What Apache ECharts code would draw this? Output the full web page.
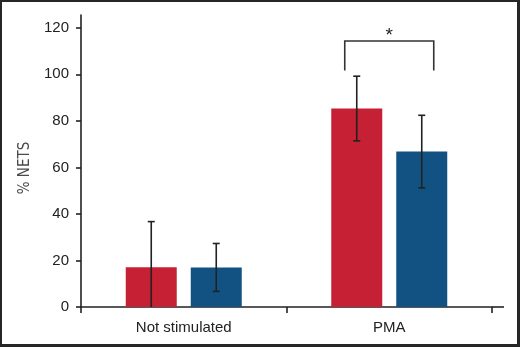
<!DOCTYPE html>
<html>
<head>
<meta charset="utf-8">
<script src="https://cdn.jsdelivr.net/npm/echarts@6/dist/echarts.min.js"></script>
<style>
html,body{margin:0;padding:0;background:#fff;}
#wrap{position:relative;width:520px;height:347px;}
#chart{position:absolute;left:0;top:0;width:520px;height:347px;}
#frame{position:absolute;left:0;top:0;width:520px;height:347px;box-sizing:border-box;border-style:solid;border-color:#262626;border-width:2px 3px 3px 2px;pointer-events:none;}
</style>
</head>
<body>
<div id="wrap"><div id="chart"></div><div id="frame"></div></div>
<script>
// ---- data ----
const categories = ['Not stimulated', 'PMA'];
const redValues = [17.1, 85.3];
const redErrors = [19.6, 13.9];
const blueValues = [17.0, 66.8];
const blueErrors = [10.3, 15.6];
const yTicks = [0, 20, 40, 60, 80, 100, 120];
const yLabel = '% NETS';
// significance bracket (category index, top value, leg bottom value, text)
const sigCategory = 1;
const sigTop = 114.3;
const sigLegBottom = 101.6;
const sigText = '*';

// ---- style ----
const RED = '#C62034';
const BLUE = '#125282';
const INK = '#222222';
const gridLeft = 81, gridRight = 28, gridTop = 15, gridBottom = 40;
const barW = 51, barGapPx = 14;
const barOffset = (barW + barGapPx) / 2;

const chart = echarts.init(document.getElementById('chart'), null, {renderer: 'canvas'});

function errorSeries(values, errors, dir) {
  return {
    type: 'custom',
    clip: true,
    z: 5,
    data: values.map((v, i) => [i, v - errors[i], v + errors[i]]),
    renderItem: function (params, api) {
      const i = api.value(0);
      const lo = api.coord([i, api.value(1)]);
      const hi = api.coord([i, api.value(2)]);
      const x = lo[0] + dir * barOffset;
      const cap = 3.5;
      const st = {stroke: INK, lineWidth: 1.6};
      return {
        type: 'group',
        children: [
          {type: 'line', shape: {x1: x, y1: lo[1], x2: x, y2: hi[1]}, style: st},
          {type: 'line', shape: {x1: x - cap, y1: lo[1], x2: x + cap, y2: lo[1]}, style: st},
          {type: 'line', shape: {x1: x - cap, y1: hi[1], x2: x + cap, y2: hi[1]}, style: st}
        ]
      };
    }
  };
}

const option = {
  animation: false,
  backgroundColor: '#ffffff',
  grid: {left: gridLeft, right: gridRight, top: gridTop, bottom: gridBottom},
  xAxis: {
    type: 'category',
    data: categories,
    axisLine: {lineStyle: {color: INK, width: 1.6}},
    axisTick: {show: true, length: 6, lineStyle: {color: INK, width: 1.6}},
    axisLabel: {color: INK, fontSize: 15, fontFamily: 'Liberation Sans, Arial, sans-serif', margin: 13}
  },
  yAxis: {
    type: 'value',
    min: 0,
    max: 125.5,
    interval: 20,
    name: yLabel,
    nameLocation: 'middle',
    nameGap: 48,
    nameTextStyle: {color: '#4a4a4a', fontSize: 15, fontFamily: 'DejaVu Sans Condensed, Liberation Sans, Arial, sans-serif', padding: [0, 14, 0, 0]},
    splitLine: {show: false},
    axisLine: {show: true, lineStyle: {color: INK, width: 1.6}},
    axisTick: {show: true, length: 5, customValues: yTicks, lineStyle: {color: INK, width: 1.6}},
    axisLabel: {color: INK, fontSize: 15, fontFamily: 'Liberation Sans, Arial, sans-serif', margin: 12, customValues: yTicks}
  },
  series: [
    {type: 'bar', data: redValues, barWidth: barW, barGap: (barGapPx / barW * 100) + '%',
     itemStyle: {color: RED}, z: 2},
    {type: 'bar', data: blueValues, barWidth: barW,
     itemStyle: {color: BLUE}, z: 2},
    errorSeries(redValues, redErrors, -1),
    errorSeries(blueValues, blueErrors, 1),
    {
      type: 'custom',
      clip: false,
      z: 6,
      data: [[sigCategory, sigTop, sigLegBottom]],
      renderItem: function (params, api) {
        const c = api.value(0);
        const top = api.coord([c, api.value(1)]);
        const bot = api.coord([c, api.value(2)]);
        const xl = top[0] - 44.5, xr = top[0] + 44.5;
        return {
          type: 'group',
          children: [
            {type: 'polyline', shape: {points: [[xl, bot[1]], [xl, top[1]], [xr, top[1]], [xr, bot[1]]]},
             style: {stroke: '#333', lineWidth: 1.6, fill: null}},
            {type: 'text', style: {text: sigText, x: top[0], y: top[1] + 4, align: 'center', verticalAlign: 'bottom',
             fill: INK, font: '19px Liberation Sans, Arial, sans-serif'}}
          ]
        };
      }
    }
  ],
  graphic: [
    {type: 'line', z: 10,
     shape: {x1: 520 - gridRight, y1: 347 - gridBottom, x2: 520 - gridRight + 12, y2: 347 - gridBottom},
     style: {stroke: INK, lineWidth: 1.6}}
  ]
};
chart.setOption(option);
</script>
</body>
</html>
